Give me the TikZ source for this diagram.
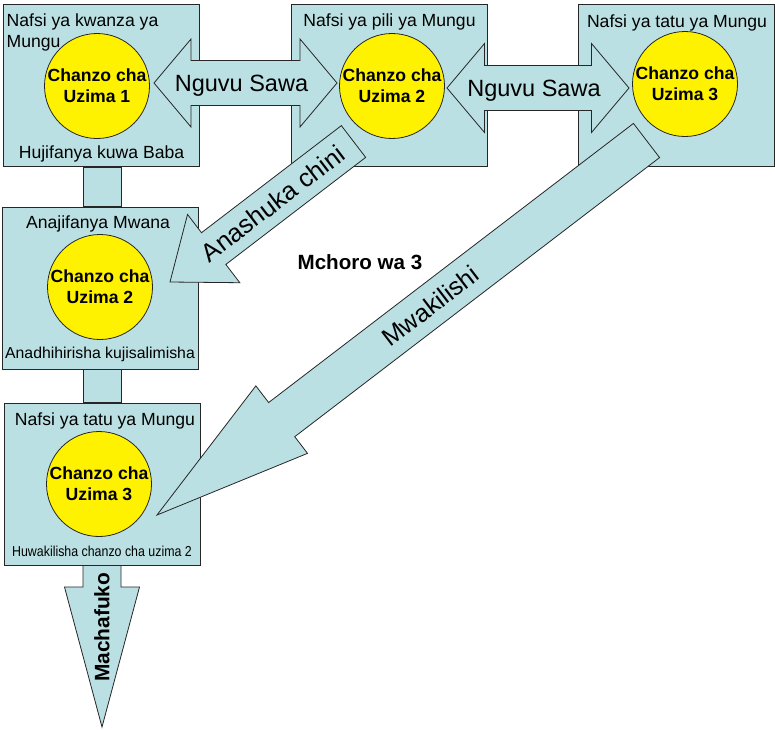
\documentclass[tikz,border=0pt]{standalone}
\usepackage{graphicx}
\usepackage{fontspec}
\setmainfont{Liberation Sans}
\usepackage{tikz}
\usetikzlibrary{calc,positioning}

\definecolor{paleblue}{HTML}{BBE0E3}

% fat arrow: tail, tip, shaft half width, head half width, head length
\newcommand{\fatarrow}[5]{%
	\path ($(#2)!#5!(#1)$) coordinate (headbase);
	\draw[band] ($(#1)!#3!90:(#2)$) -- ($(headbase)!#3!90:(#2)$)
		-- ($(headbase)!#4!90:(#2)$) -- (#2)
		-- ($(headbase)!#4!-90:(#2)$) -- ($(headbase)!#3!-90:(#2)$)
		-- ($(#1)!#3!-90:(#2)$) -- cycle;
}
% two-headed fat arrow: tip, tip, shaft half width, head half width, head length
\newcommand{\twowayarrow}[5]{%
	\path ($(#1)!#5!(#2)$) coordinate (baseone);
	\path ($(#2)!#5!(#1)$) coordinate (basetwo);
	\draw[band] (#1) -- ($(baseone)!#4!90:(#2)$) -- ($(baseone)!#3!90:(#2)$)
		-- ($(basetwo)!#3!-90:(#1)$) -- ($(basetwo)!#4!-90:(#1)$) -- (#2)
		-- ($(basetwo)!#4!90:(#1)$) -- ($(basetwo)!#3!90:(#1)$)
		-- ($(baseone)!#3!-90:(#2)$) -- ($(baseone)!#4!-90:(#2)$) -- cycle;
}

\begin{document}
\begin{tikzpicture}[x=1pt, y=-1pt]
	\tikzstyle{box}=[draw=black!85, line width=1pt, fill=paleblue,
		minimum width=196pt, minimum height=162pt, inner sep=0pt]
	\tikzstyle{band}=[draw=black!85, line width=0.8pt, fill=paleblue, line join=miter]
	\tikzstyle{source}=[circle, draw=black!85, line width=0.8pt, fill=yellow,
		minimum size=105pt, inner sep=0pt, align=center,
		font=\bfseries\fontsize{17.6}{20.7}\selectfont]
	\tikzstyle{lbl}=[inner sep=0pt, text height=13pt, text depth=3.8pt,
		font=\fontsize{17.6}{20.5}\selectfont]
	\tikzstyle{arrowtext}=[inner sep=0pt, font=\fontsize{23.5}{27}\selectfont]
	\useasboundingbox (0,0) rectangle (775,729);
	% % Nodes
	% persons
	\node[box] (baba) at (101.5,85.5) {};
	\node[box] (pili) at (389.5,85.5) {};
	\node[box] (tatu) at (676,85.5) {};
	\node[box] (mwana) at (100,288) {};
	\node[box] (wakili) at (102,484) {};
	% box texts
	\node[lbl, align=left, text height=33.5pt, below right=9.5pt and 3.5pt of baba.north west]
	(babaTop) {Nafsi ya kwanza ya\\Mungu};
	\node[lbl, above=4.7pt of baba.south] (babaBot) {Hujifanya kuwa Baba};
	\node[lbl, below=9.5pt of pili.north] (piliTop) {Nafsi ya pili ya Mungu};
	\node[lbl, below=10pt of tatu.north, xshift=1pt] (tatuTop) {Nafsi ya tatu ya Mungu};
	\node[lbl, below=9pt of mwana.north, xshift=-2pt] (mwanaTop) {Anajifanya Mwana};
	\node[lbl, font=\fontsize{15.8}{18}\selectfont, above=7.2pt of mwana.south]
	(mwanaBot) {Anadhihirisha kujisalimisha};
	\node[lbl, below=9.7pt of wakili.north, xshift=3pt] (wakiliTop) {Nafsi ya tatu ya Mungu};
	\node[lbl, font=\fontsize{14.4}{17}\selectfont, above=5.5pt of wakili.south]
	(wakiliBot) {\scalebox{0.86}[1]{Huwakilisha chanzo cha uzima 2}};
	% % Connectors
	\draw[band] (83,0 |- baba.south) rectangle (121,0 |- mwana.north);
	\draw[band] (83,0 |- mwana.south) rectangle (121,0 |- wakili.north);
	\coordinate (sawaL1) at (154,83);
	\coordinate (sawaR1) at (337,83);
	\coordinate (sawaL2) at (447,88);
	\coordinate (sawaR2) at (629,88);
	\coordinate (downT) at (353.5,141.5);
	\coordinate (downH) at (170,282);
	\coordinate (sendT) at (646.5,140.5);
	\coordinate (sendH) at (157,515);
	\coordinate (chaosH) at (102,727);
	\twowayarrow{sawaL1}{sawaR1}{22.5pt}{44pt}{37pt}
	\twowayarrow{sawaL2}{sawaR2}{22.5pt}{44.5pt}{37.5pt}
	\fatarrow{downT}{downH}{20pt}{43pt}{55pt}
	\fatarrow{sendT}{sendH}{21.5pt}{42.5pt}{157pt}
	\fatarrow{wakili.south}{chaosH}{19pt}{37.5pt}{140pt}
	% sources
	\node[source] (uzima1) at (97,86) {Chanzo cha\\Uzima 1};
	\node[source] (uzima2) at (392,86) {Chanzo cha\\Uzima 2};
	\node[source] (uzima3) at (685,84) {Chanzo cha\\Uzima 3};
	\node[source] (mwanaUzima) at (100,287) {Chanzo cha\\Uzima 2};
	\node[source] (wakiliUzima) at (99,484) {Chanzo cha\\Uzima 3};
	% arrow texts
	\path (sawaL1) -- node[arrowtext, xshift=-4pt, yshift=-2.3pt] (sawa1) {Nguvu Sawa} (sawaR1);
	\path (sawaL2) -- node[arrowtext, xshift=-4pt, yshift=-2.3pt] (sawa2) {Nguvu Sawa} (sawaR2);
	\path (downT) -- node[arrowtext, font=\fontsize{25.5}{29}\selectfont, pos=0.44, rotate=37.4]
	(shuka) {Anashuka chini} (downH);
	\path (sendT) -- node[arrowtext, font=\fontsize{25}{29}\selectfont, pos=0.442, rotate=37.4]
	(wakilisha) {Mwakilishi} (sendH);
	\path (wakili.south) -- node[pos=0.383, rotate=90, inner sep=0pt,
		font=\bfseries\fontsize{20.9}{24}\selectfont] (chafuko) {Machafuko} (chaosH);
	% title
	\node[font=\bfseries\fontsize{20.6}{24}\selectfont] (mchoro) at (360,262) {Mchoro wa 3};
\end{tikzpicture}
\end{document}
